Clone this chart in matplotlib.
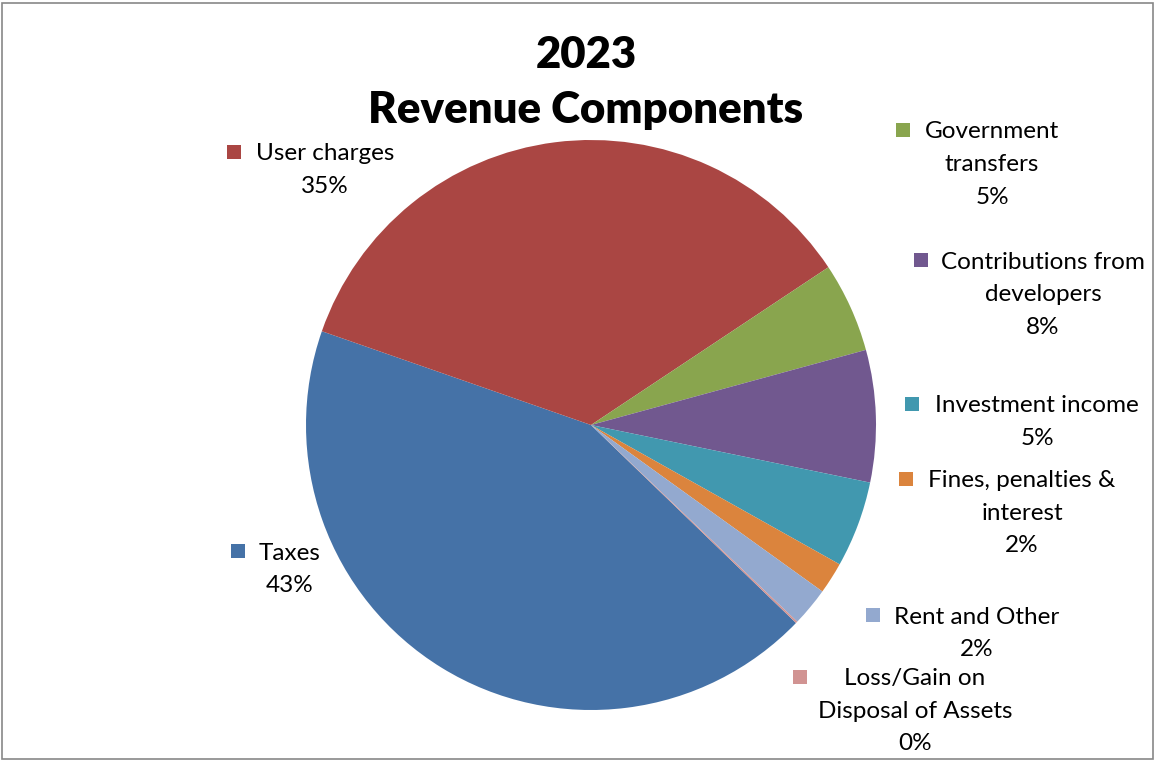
import matplotlib.pyplot as plt
from matplotlib.patches import Rectangle

plt.rcParams['font.family'] = ['Lato', 'DejaVu Sans']

# revenue shares (percent), clockwise from Taxes
categories = ["Taxes", "User charges", "Government\ntransfers",
              "Contributions from\ndevelopers", "Investment income",
              "Fines, penalties &\ninterest", "Rent and Other",
              "Loss/Gain on\nDisposal of Assets"]
shares = [43.2, 35.4, 5.1, 7.5, 4.9, 1.8, 2.2, 0.1]
pct_labels = ["43%", "35%", "5%", "8%", "5%", "2%", "2%", "0%"]
colors = ["#4572A7", "#AA4643", "#89A54E", "#71588F",
          "#4198AF", "#DB843D", "#93A9CF", "#D19392"]

W, H = 1156, 761
fig = plt.figure(figsize=(W / 100, H / 100), dpi=100)

# pie axes: centre (591, 425) px, radius 285 px
cx, cy, r = 591, 425, 285
ax = fig.add_axes([(cx - r) / W, (H - cy - r) / H, 2 * r / W, 2 * r / H])
ax.pie(shares, colors=colors, startangle=-44, counterclock=False,
       wedgeprops=dict(linewidth=0))
ax.set_xlim(-1, 1)
ax.set_ylim(-1, 1)
ax.set_aspect('equal')
ax.axis('off')

fig.text(586 / W, 1 - 55 / H, "2023", ha='center', va='center',
         fontsize=31.5, fontweight='heavy')
fig.text(586 / W, 1 - 110 / H, "Revenue Components", ha='center', va='center',
         fontsize=31.5, fontweight='heavy')

# label layout: (text centre x, first line y, marker x) in pixels
label_pos = [
    (290, 551, 238),
    (325, 152, 234),
    (992, 130, 903),
    (1043, 260, 921),
    (1037, 404, 912),
    (1022, 479, 906),
    (977, 615, 873),
    (915, 677, 800),
]
line_h = 32.5
for name, pct, col, (tx, ty, mx) in zip(categories, pct_labels, colors, label_pos):
    lines = name.split("\n") + [pct]
    for i, s in enumerate(lines):
        fig.text(tx / W, 1 - (ty + 2 + i * line_h) / H, s, ha='center', va='center',
                 fontsize=17.5)
    fig.patches.append(Rectangle(((mx - 7) / W, 1 - (ty + 7) / H), 14 / W, 14 / H,
                                 transform=fig.transFigure, facecolor=col,
                                 edgecolor='none'))

# chart area border
fig.patches.append(Rectangle((2 / W, 2 / H), (W - 5) / W, (H - 5) / H,
                             transform=fig.transFigure, fill=False,
                             edgecolor='#878787', linewidth=1.2))

fig.savefig("out.png", dpi=100)
